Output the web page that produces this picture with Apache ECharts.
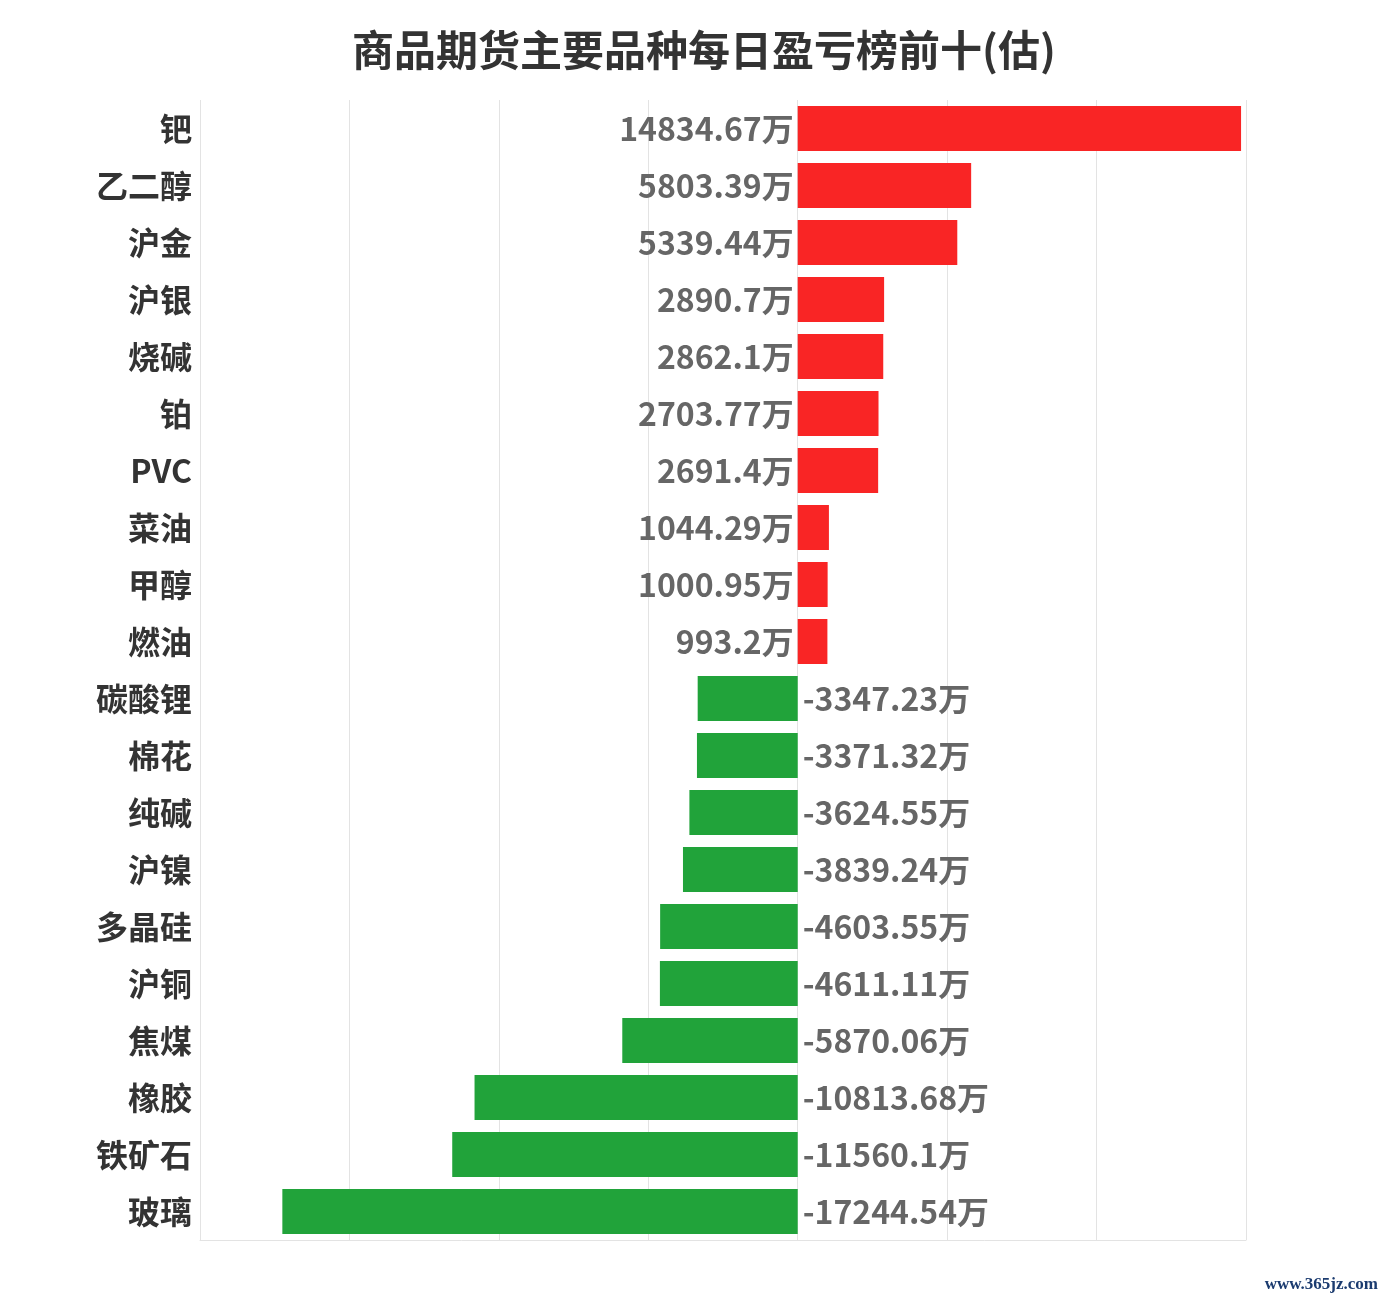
<!DOCTYPE html>
<html><head><meta charset="utf-8">
<script src="https://cdn.jsdelivr.net/npm/echarts@6/dist/echarts.min.js"></script>
<style>html,body{margin:0;padding:0;background:#fff}#c{width:1385px;height:1300px}</style>
</head><body><div id="c"></div>
<script>
const titleText = '商品期货主要品种每日盈亏榜前十(估)';
const categories = ['钯','乙二醇','沪金','沪银','烧碱','铂','PVC','菜油','甲醇','燃油','碳酸锂','棉花','纯碱','沪镍','多晶硅','沪铜','焦煤','橡胶','铁矿石','玻璃'];
const values = [14834.67,5803.39,5339.44,2890.7,2862.1,2703.77,2691.4,1044.29,1000.95,993.2,-3347.23,-3371.32,-3624.55,-3839.24,-4603.55,-4611.11,-5870.06,-10813.68,-11560.1,-17244.54];
const unit = '万';
const posColor = '#f92525';
const negColor = '#21a33a';

const chart = echarts.init(document.getElementById('c'));
const font = '"Noto Sans CJK SC","Noto Sans",sans-serif';
chart.setOption({
  backgroundColor: '#fff',
  animation: false,
  title: { text: titleText, left: 347, top: 24, textStyle: { fontFamily: font, fontSize: 42, fontWeight: 'bold', color: '#333' } },
  grid: { left: 200, right: 139, top: 100, bottom: 60, containLabel: false },
  xAxis: { type: 'value', min: -20000, max: 15000, interval: 5000,
    axisLabel: { show: false }, axisTick: { show: false },
    axisLine: { show: true, onZero: false, lineStyle: { color: '#e3e3e3' } },
    splitLine: { show: true, lineStyle: { color: '#e3e3e3' } } },
  yAxis: { type: 'category', inverse: true, data: categories,
    axisTick: { show: false }, axisLine: { show: false },
    axisLabel: { fontFamily: font, fontSize: 32, fontWeight: 'bold', color: '#333', margin: 8 } },
  series: [{
    type: 'bar', barWidth: 45,
    data: values.map(v => ({ value: v,
      itemStyle: { color: v >= 0 ? posColor : negColor },
      label: { position: v >= 0 ? 'left' : 'right', distance: v >= 0 ? 4 : 5 } })),
    label: { show: true, fontFamily: font, fontSize: 32, fontWeight: 'bold', color: '#666',
      formatter: p => p.value + unit }
  }],
  graphic: [{ type: 'text', right: 7, top: 1276, style: { text: 'www.365jz.com', font: 'bold 17px "Liberation Serif", serif', fill: '#1b3b6f' } }]
});
</script></body></html>
